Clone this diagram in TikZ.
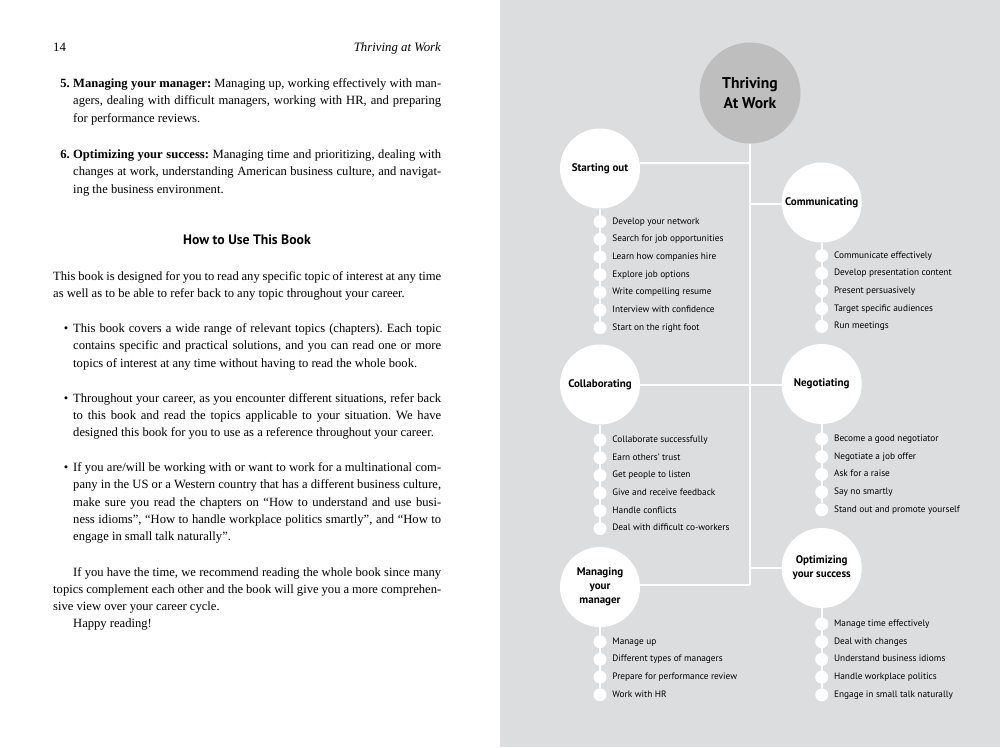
\documentclass[tikz,border=0pt]{standalone}
\usepackage{fontspec}
\setmainfont{Liberation Serif}
\newfontfamily\mapfont{PT Sans}
\usepackage{xcolor}
\usepackage{tikz}
\usetikzlibrary{positioning}
\definecolor{pagegray}{RGB}{220,221,223}
\definecolor{hubgray}{RGB}{190,190,191}
\frenchspacing

\begin{document}
\begin{tikzpicture}[
    x=1pt, y=-1pt,
    body/.style={anchor=base west, inner sep=0pt, align=justify,
                 font=\fontsize{12.6}{17.3}\selectfont},
    hub/.style={circle, fill=hubgray, minimum size=101pt, inner sep=0pt,
                align=center, font=\mapfont\bfseries\fontsize{15.6}{20}\selectfont},
    topic/.style={circle, fill=white, minimum size=80pt, inner sep=0pt,
                  align=center, font=\mapfont\bfseries\fontsize{11}{14}\selectfont},
    bead/.style={circle, fill=white, minimum size=13pt, inner sep=0pt},
    leaf/.style={font=\mapfont\fontsize{9.3}{12}\selectfont, inner sep=0pt,
                 text height=6.8pt, text depth=2pt, label distance=5.5pt},
    trunk/.style={white, line width=2.6pt},
    twig/.style={white, line width=1.8pt},
  ]
  \useasboundingbox (0,0) rectangle (1000,747);
  \fill[white] (0,0) rectangle (500,747);
  \fill[pagegray] (500,0) rectangle (1000,747);

  % ── Left page ──
  \node[anchor=base west, inner sep=0pt, font=\fontsize{12.8}{15}\selectfont] (folio) at (53,51) {14};
  \node[anchor=base east, inner sep=0pt, font=\itshape\fontsize{12.8}{15}\selectfont] (runhead) at (441,51) {Thriving at Work};

  \node[body, text width=368pt] (item5) at (73,87.5)
    {\makebox[0pt][r]{\textbf{5.}\hspace{3.5pt}}\textbf{Managing your manager:} Managing up, working effectively with man-\linebreak
     agers, dealing with difficult managers, working with HR, and preparing\linebreak
     for performance reviews.};
  \node[body, text width=368pt] (item6) at (73,158.5)
    {\makebox[0pt][r]{\textbf{6.}\hspace{3.5pt}}\textbf{Optimizing your success:} Managing time and prioritizing, dealing with\linebreak
     changes at work, understanding American business culture, and navigat-\linebreak
     ing the business environment.};

  \node[anchor=base, inner sep=0pt, font=\mapfont\bfseries\fontsize{13.7}{15}\selectfont] (howto) at (247,244.5) {How to Use This Book};

  \node[body, text width=388pt] (intro) at (53,280)
    {This book is designed for you to read any specific topic of interest at any time\linebreak
     as well as to be able to refer back to any topic throughout your career.};

  \node[body, text width=368pt] (bul1) at (73,332.5)
    {\makebox[0pt][r]{\textbullet\hspace{5pt}}This book covers a wide range of relevant topics (chapters). Each topic\linebreak
     contains specific and practical solutions, and you can read one or more\linebreak
     topics of interest at any time without having to read the whole book.};
  \node[body, text width=368pt] (bul2) at (73,402)
    {\makebox[0pt][r]{\textbullet\hspace{5pt}}Throughout your career, as you encounter different situations, refer back\linebreak
     to this book and read the topics applicable to your situation. We have\linebreak
     designed this book for you to use as a reference throughout your career.};
  \node[body, text width=368pt] (bul3) at (73,471.5)
    {\makebox[0pt][r]{\textbullet\hspace{5pt}}If you are/will be working with or want to work for a multinational com-\linebreak
     pany in the US or a Western country that has a different business culture,\linebreak
     make sure you read the chapters on “How to understand and use busi-\linebreak
     ness idioms”, “How to handle workplace politics smartly”, and “How to\linebreak
     engage in small talk naturally”.};

  \node[body, text width=388pt] (outro) at (53,576)
    {\hspace*{20pt}If you have the time, we recommend reading the whole book since many\linebreak
     topics complement each other and the book will give you a more comprehen-\linebreak
     sive view over your career cycle.\par
     \hspace*{20pt}Happy reading!};

  % ── Mind map ──
  \node[hub] (hub) at (750,93) {Thriving\\At Work};

  \node[topic] (so)  at (600,168.5)   {Starting out};
  \node[topic] (com) at (821.7,202.5) {Communicating};
  \node[topic] (col) at (600,384.5)   {Collaborating};
  \node[topic] (neg) at (821.7,384)   {Negotiating};
  \node[topic] (mgr) at (600,587)     {Managing\\your\\manager};
  \node[topic] (opt) at (821.7,568)   {Optimizing\\your success};

  \coordinate (j1) at (750,163);
  \coordinate (j2) at (750,204);
  \coordinate (j3) at (750,385);
  \coordinate (j4) at (750,568);
  \coordinate (j5) at (750,585);

  \draw[trunk] (hub.south) -- (j5);
  \draw[trunk] (j1) -- (j1 -| so.east);
  \draw[trunk] (j2) -- (j2 -| com.west);
  \draw[trunk] (j3 -| col.east) -- (j3 -| neg.west);
  \draw[trunk] (j4) -- (j4 -| opt.west);
  \draw[trunk] (j5) -- (j5 -| mgr.east);

  % Starting out
  \node[bead, label={[leaf]right:Develop your network}]        (s1) at (600,221.7) {};
  \node[bead, label={[leaf]right:Search for job opportunities}] (s2) at (600,239.4) {};
  \node[bead, label={[leaf]right:Learn how companies hire}]    (s3) at (600,257.0) {};
  \node[bead, label={[leaf]right:Explore job options}]         (s4) at (600,274.7) {};
  \node[bead, label={[leaf]right:Write compelling resume}]     (s5) at (600,292.4) {};
  \node[bead, label={[leaf]right:Interview with confidence}]   (s6) at (600,310.1) {};
  \node[bead, label={[leaf]right:Start on the right foot}]     (s7) at (600,327.7) {};
  \draw[twig] (so.south) -- (s7);

  % Communicating
  \node[bead, label={[leaf]right:Communicate effectively}]       (c1) at (821.7,255.7) {};
  \node[bead, label={[leaf]right:Develop presentation content}]  (c2) at (821.7,273.3) {};
  \node[bead, label={[leaf]right:Present persuasively}]          (c3) at (821.7,291.0) {};
  \node[bead, label={[leaf]right:Target specific audiences}]     (c4) at (821.7,308.7) {};
  \node[bead, label={[leaf]right:Run meetings}]                  (c5) at (821.7,326.4) {};
  \draw[twig] (com.south) -- (c5);

  % Collaborating
  \node[bead, label={[leaf]right:Collaborate successfully}]       (l1) at (600,440.0) {};
  \node[bead, label={[leaf]right:Earn others’ trust}]             (l2) at (600,457.7) {};
  \node[bead, label={[leaf]right:Get people to listen}]           (l3) at (600,475.4) {};
  \node[bead, label={[leaf]right:Give and receive feedback}]      (l4) at (600,493.1) {};
  \node[bead, label={[leaf]right:Handle conflicts}]               (l5) at (600,510.8) {};
  \node[bead, label={[leaf]right:Deal with difficult co-workers}] (l6) at (600,528.5) {};
  \draw[twig] (col.south) -- (l6);

  % Negotiating
  \node[bead, label={[leaf]right:Become a good negotiator}]        (n1) at (821.7,439.0) {};
  \node[bead, label={[leaf]right:Negotiate a job offer}]           (n2) at (821.7,456.7) {};
  \node[bead, label={[leaf]right:Ask for a raise}]                 (n3) at (821.7,474.4) {};
  \node[bead, label={[leaf]right:Say no smartly}]                  (n4) at (821.7,492.1) {};
  \node[bead, label={[leaf]right:Stand out and promote yourself}]  (n5) at (821.7,509.8) {};
  \draw[twig] (neg.south) -- (n5);

  % Managing your manager
  \node[bead, label={[leaf]right:Manage up}]                         (m1) at (600,641.7) {};
  \node[bead, label={[leaf]right:Different types of managers}]       (m2) at (600,659.4) {};
  \node[bead, label={[leaf]right:Prepare for performance review}]    (m3) at (600,677.1) {};
  \node[bead, label={[leaf]right:Work with HR}]                      (m4) at (600,694.8) {};
  \draw[twig] (mgr.south) -- (m4);

  % Optimizing your success
  \node[bead, label={[leaf]right:Manage time effectively}]          (o1) at (821.7,624.0) {};
  \node[bead, label={[leaf]right:Deal with changes}]                (o2) at (821.7,641.7) {};
  \node[bead, label={[leaf]right:Understand business idioms}]       (o3) at (821.7,659.4) {};
  \node[bead, label={[leaf]right:Handle workplace politics}]        (o4) at (821.7,677.1) {};
  \node[bead, label={[leaf]right:Engage in small talk naturally}]   (o5) at (821.7,694.8) {};
  \draw[twig] (opt.south) -- (o5);
\end{tikzpicture}
\end{document}
